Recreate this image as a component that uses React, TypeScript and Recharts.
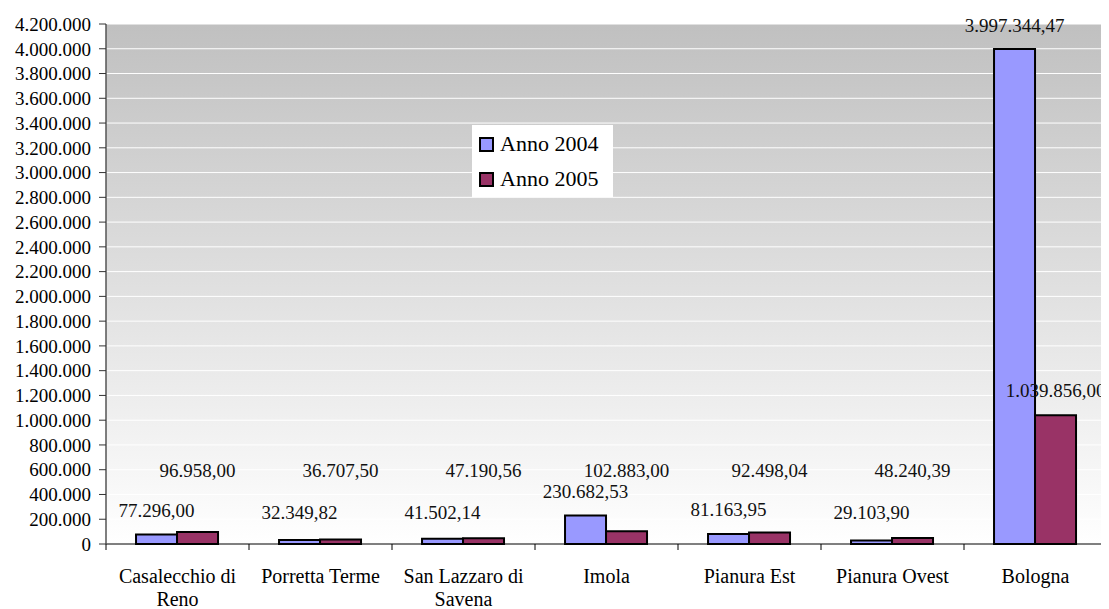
import React from 'react';
import { BarChart, Bar, XAxis, YAxis, CartesianGrid, Legend, LabelList, Text } from 'recharts';

const categories = [
  'Casalecchio di Reno',
  'Porretta Terme',
  'San Lazzaro di Savena',
  'Imola',
  'Pianura Est',
  'Pianura Ovest',
  'Bologna',
];
const anno2004 = [77296.0, 32349.82, 41502.14, 230682.53, 81163.95, 29103.9, 3997344.47];
const anno2005 = [96958.0, 36707.5, 47190.56, 102883.0, 92498.04, 48240.39, 1039856.0];
const seriesNames = ['Anno 2004', 'Anno 2005'];
const seriesColors = ['#9999FF', '#993366'];
const yTicks = [
  0, 200000, 400000, 600000, 800000, 1000000, 1200000, 1400000, 1600000, 1800000, 2000000,
  2200000, 2400000, 2600000, 2800000, 3000000, 3200000, 3400000, 3600000, 3800000, 4000000, 4200000,
];

const data = categories.map((c, i) => ({ name: c, a2004: anno2004[i], a2005: anno2005[i] }));

const FONT = "'Liberation Serif', 'DejaVu Serif', serif";
const W = 1101;
const H = 601;
const MARGIN = { top: 16, right: 2, bottom: 0, left: 0 };
const Y_W = 98;
const X_H = 65;
const X_TICK_SIZE = 6;
const X_TICK_MARGIN = 4;
const BAND = (W - MARGIN.left - MARGIN.right - Y_W) / categories.length;

const group = (s: string) => s.replace(/\B(?=(\d{3})+(?!\d))/g, '.');
const fmtAxis = (v: number) => group(String(Math.round(v)));
const fmtValue = (v: number) => {
  const [i, d] = Number(v).toFixed(2).split('.');
  return group(i) + ',' + d;
};

const XTick = (props: any) => {
  const { x, y, payload, index } = props;
  const axisY = y - X_TICK_SIZE - X_TICK_MARGIN;
  const half = BAND / 2;
  return (
    <g>
      <line x1={x - half} x2={x - half} y1={axisY} y2={axisY + 6} stroke="#000" strokeWidth={1} />
      {index === categories.length - 1 && (
        <line x1={x + half} x2={x + half} y1={axisY} y2={axisY + 6} stroke="#000" strokeWidth={1} />
      )}
      <Text
        x={x}
        y={axisY + 25}
        width={128}
        textAnchor="middle"
        verticalAnchor="start"
        lineHeight={23}
        fill="#000"
        fontSize={20}
        fontFamily={FONT}
        style={{ fontFamily: FONT, fontSize: 20 }}
      >
        {payload.value}
      </Text>
    </g>
  );
};

const makeLabel = (lane: number, off: number) => (props: any) => {
  const { x, y, width, value } = props;
  const cy = Math.min(Number(y) - off, lane);
  return (
    <text
      x={Number(x) + Number(width) / 2}
      y={cy}
      textAnchor="middle"
      dominantBaseline="central"
      fill="#111"
      fontSize={19}
      style={{ fontFamily: FONT }}
    >
      {fmtValue(value)}
    </text>
  );
};

const LegendBox = () => (
  <div
    style={{
      background: '#fff',
      width: 141,
      height: 72,
      position: 'relative',
      fontFamily: FONT,
      fontSize: 22,
      color: '#000',
    }}
  >
    {seriesNames.map((n, i) => (
      <div
        key={n}
        style={{ position: 'absolute', left: 7, top: 8 + i * 35, height: 22, display: 'flex', alignItems: 'center' }}
      >
        <div
          style={{
            width: 15,
            height: 15,
            boxSizing: 'border-box',
            border: '2px solid #000',
            background: seriesColors[i],
            marginRight: 6,
          }}
        />
        <span style={{ lineHeight: '22px', whiteSpace: 'nowrap' }}>{n}</span>
      </div>
    ))}
  </div>
);

export default function App() {
  return (
    <div style={{ width: W, height: H, fontFamily: FONT }}>
      <BarChart
        width={W}
        height={H}
        data={data}
        margin={MARGIN}
        barGap={0}
        barCategoryGap="21%"
        style={{ fontFamily: FONT, overflow: 'visible' }}
      >
        <defs>
          <linearGradient id="bgGrad" x1="0" y1="0" x2="0" y2="1">
            <stop offset="0%" stopColor="#c0c0c0" />
            <stop offset="100%" stopColor="#ffffff" />
          </linearGradient>
        </defs>
        <CartesianGrid vertical={false} stroke="#ffffff" strokeWidth={1} fill="url(#bgGrad)" fillOpacity={1} />
        <XAxis
          dataKey="name"
          height={X_H}
          interval={0}
          tickSize={X_TICK_SIZE}
          tickMargin={X_TICK_MARGIN}
          tickLine={false}
          axisLine={{ stroke: '#000', strokeWidth: 1 }}
          tick={<XTick />}
        />
        <YAxis
          width={Y_W}
          domain={[0, 4200000]}
          ticks={yTicks}
          interval={0}
          tickSize={7}
          tickMargin={8}
          tickFormatter={fmtAxis}
          axisLine={{ stroke: '#555', strokeWidth: 1.5 }}
          tickLine={{ stroke: '#333', strokeWidth: 1 }}
          tick={{ fill: '#000', fontSize: 19, style: { fontFamily: FONT } }}
        />
        <Legend
          layout="horizontal"
          verticalAlign="middle"
          align="center"
          wrapperStyle={{ left: 464, top: 117, width: 141, height: 72 }}
          content={() => <LegendBox />}
        />
        <Bar dataKey="a2004" name={seriesNames[0]} fill={seriesColors[0]} stroke="#000" strokeWidth={2} isAnimationActive={false}>
          <LabelList dataKey="a2004" content={makeLabel(504, 24)} />
        </Bar>
        <Bar dataKey="a2005" name={seriesNames[1]} fill={seriesColors[1]} stroke="#000" strokeWidth={2} isAnimationActive={false}>
          <LabelList dataKey="a2005" content={makeLabel(462, 25)} />
        </Bar>
      </BarChart>
    </div>
  );
}
